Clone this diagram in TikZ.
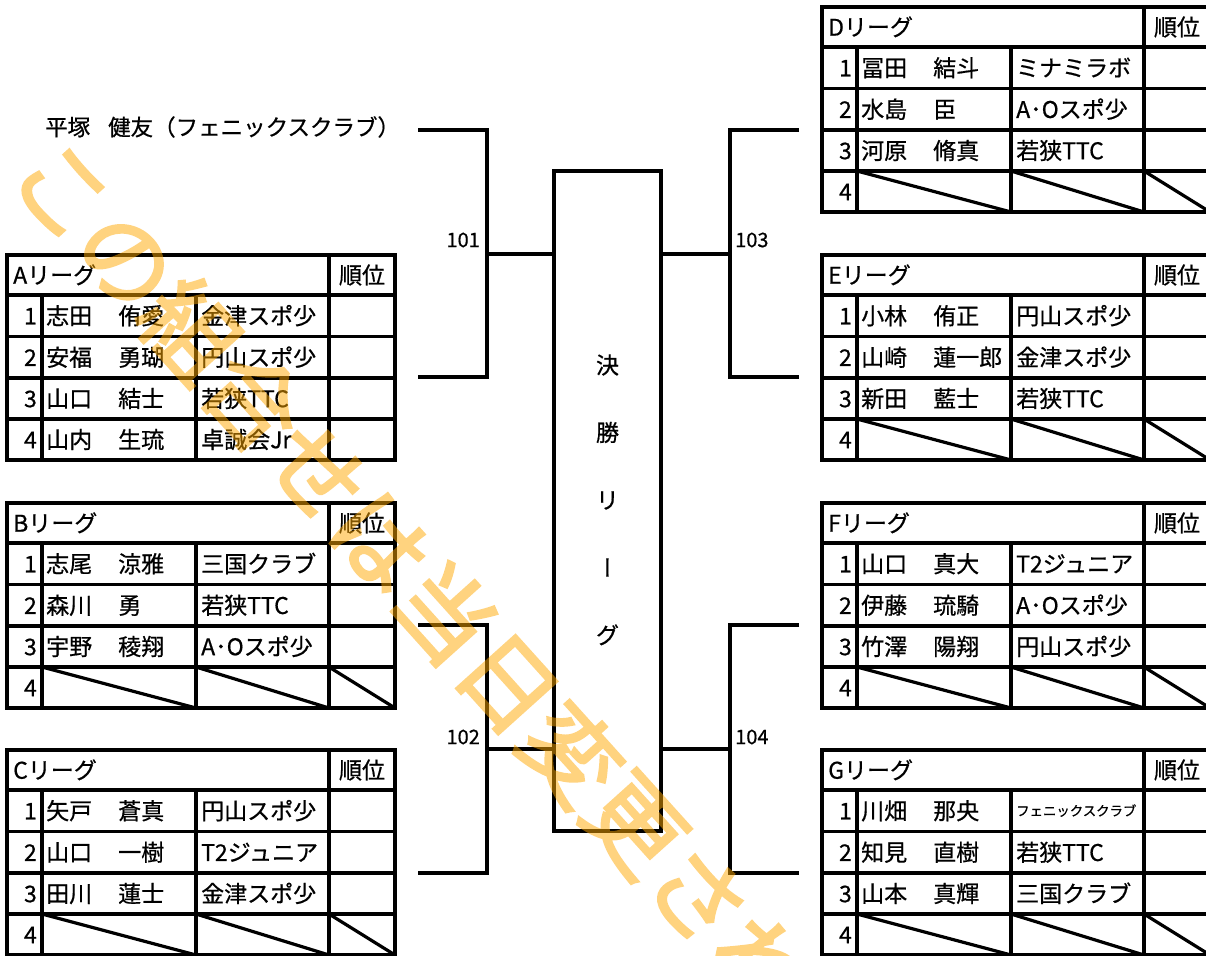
\documentclass[tikz,border=0pt]{standalone}
\usepackage{fontspec}
\setmainfont{Noto Sans CJK JP}[FakeBold=0.6]
\newfontfamily\wmfont{Noto Sans CJK JP}[FakeBold=2.5]
\definecolor{wmc}{RGB}{255,168,0}
\tikzset{
  tbl/.style={line width=3.2pt, line cap=rect},
  diag/.style={line width=3.2pt},
  brk/.style={line width=3.2pt},
  txt/.style={inner sep=0pt, font=\fontsize{23pt}{23pt}\selectfont, text height=20.2pt, text depth=2.8pt},
  smalltxt/.style={inner sep=0pt, font=\fontsize{13.4pt}{13.4pt}\selectfont, text height=11.8pt, text depth=1.6pt},
  seedtxt/.style={inner sep=0pt, font=\fontsize{22.5pt}{22.5pt}\selectfont, text height=19.8pt, text depth=2.7pt},
  lbl/.style={inner sep=0pt, font=\fontsize{20pt}{20pt}\selectfont},
  fbox/.style={draw, line width=3.2pt, minimum width=107pt, minimum height=660pt, inner sep=0pt},
  wm/.style={inner sep=0pt, font=\wmfont\fontsize{95pt}{95pt}\selectfont, text=wmc},
}
\newcommand\lgtable[4]{%
  \draw[tbl] (#1,#2) rectangle ({#1+388},{#2+205});
  \foreach \o in {40,81.5,123,164}{\draw[tbl] (#1,{#2+\o}) -- ({#1+388},{#2+\o});}
  \draw[tbl] ({#1+35},{#2+40}) -- ({#1+35},{#2+205});
  \draw[tbl] ({#1+189},{#2+40}) -- ({#1+189},{#2+205});
  \draw[tbl] ({#1+322},{#2}) -- ({#1+322},{#2+205});
  \node[txt, anchor=west] (#4-h) at ({#1+6},{#2+20}) {#3リーグ};
  \node[txt] (#4-r) at ({#1+355},{#2+20}) {順位};
}
\newcommand\lgrow[8]{%
  \node[txt, anchor=east] (#4-#5n) at ({#1+30},{#2+#3}) {#5};
  \node[txt, anchor=west] (#4-#5a) at ({#1+39},{#2+#3}) {#6};
  \node[txt, anchor=west] (#4-#5b) at ({#1+111},{#2+#3}) {#7};
  \node[txt, anchor=west] (#4-#5c) at ({#1+194},{#2+#3}) {#8};
}
\newcommand\lgempty[3]{%
  \node[txt, anchor=east] (#3-4n) at ({#1+30},{#2+184.5}) {4};
  \draw[diag] ({#1+35},{#2+164}) -- ({#1+189},{#2+205});
  \draw[diag] ({#1+189},{#2+164}) -- ({#1+322},{#2+205});
  \draw[diag] ({#1+322},{#2+164}) -- ({#1+388},{#2+205});
}
\begin{document}
\begin{tikzpicture}[x=1pt,y=-1pt]
\useasboundingbox (0,0) rectangle (1206,955);
\fill[white] (0,0) rectangle (1206,955);

% ---------- left tables ----------
\lgtable{7}{255}{A}{A}
\lgrow{7}{255}{60.75}{A}{1}{志田}{侑愛}{金津スポ少}
\lgrow{7}{255}{102.25}{A}{2}{安福}{勇瑚}{円山スポ少}
\lgrow{7}{255}{143.5}{A}{3}{山口}{結士}{若狭TTC}
\lgrow{7}{255}{184.5}{A}{4}{山内}{生琉}{卓誠会Jr}

\lgtable{7}{503}{B}{B}
\lgrow{7}{503}{60.75}{B}{1}{志尾}{涼雅}{三国クラブ}
\lgrow{7}{503}{102.25}{B}{2}{森川}{勇}{若狭TTC}
\lgrow{7}{503}{143.5}{B}{3}{宇野}{稜翔}{A･Oスポ少}
\lgempty{7}{503}{B}

\lgtable{7}{750}{C}{C}
\lgrow{7}{750}{60.75}{C}{1}{矢戸}{蒼真}{円山スポ少}
\lgrow{7}{750}{102.25}{C}{2}{山口}{一樹}{T2ジュニア}
\lgrow{7}{750}{143.5}{C}{3}{田川}{蓮士}{金津スポ少}
\lgempty{7}{750}{C}

% ---------- right tables ----------
\lgtable{822}{7}{D}{D}
\lgrow{822}{7}{60.75}{D}{1}{冨田}{結斗}{ミナミラボ}
\lgrow{822}{7}{102.25}{D}{2}{水島}{臣}{A･Oスポ少}
\lgrow{822}{7}{143.5}{D}{3}{河原}{脩真}{若狭TTC}
\lgempty{822}{7}{D}

\lgtable{822}{255}{E}{E}
\lgrow{822}{255}{60.75}{E}{1}{小林}{侑正}{円山スポ少}
\lgrow{822}{255}{102.25}{E}{2}{山崎}{蓮一郎}{金津スポ少}
\lgrow{822}{255}{143.5}{E}{3}{新田}{藍士}{若狭TTC}
\lgempty{822}{255}{E}

\lgtable{822}{503}{F}{F}
\lgrow{822}{503}{60.75}{F}{1}{山口}{真大}{T2ジュニア}
\lgrow{822}{503}{102.25}{F}{2}{伊藤}{琉騎}{A･Oスポ少}
\lgrow{822}{503}{143.5}{F}{3}{竹澤}{陽翔}{円山スポ少}
\lgempty{822}{503}{F}

\lgtable{822}{750}{G}{G}
\lgrow{822}{750}{60.75}{G}{1}{川畑}{那央}{}
\node[smalltxt, anchor=west] (G-1s) at (1016,810.75) {フェニックスクラブ};
\lgrow{822}{750}{102.25}{G}{2}{知見}{直樹}{若狭TTC}
\lgrow{822}{750}{143.5}{G}{3}{山本}{真輝}{三国クラブ}
\lgempty{822}{750}{G}

% ---------- seeded player ----------
\node[seedtxt, anchor=west] (seed) at (45,127) {平塚\hspace{18pt}健友（フェニックスクラブ）};

% ---------- final league box ----------
\node[fbox] (final) at (607.5,501) {};
\node[txt] (f1) at (607.5,365) {決};
\node[txt] (f2) at (607.5,432.5) {勝};
\node[txt] (f3) at (607.5,500) {リ};
\node[txt, rotate=90] (f4) at (607.5,567.5) {ー};
\node[txt] (f5) at (607.5,635) {グ};

% ---------- brackets ----------
\coordinate (L1a) at (418,130);
\coordinate (L1b) at (418,377);
\coordinate (j101) at (487,254);
\draw[brk] (L1a) -| (j101) |- (L1b);
\draw[brk] (j101) -- (final.west |- j101);
\node[lbl, anchor=east] (n101) at (480,240) {101};

\coordinate (L2a) at (418,625);
\coordinate (L2b) at (418,873);
\coordinate (j102) at (487,749);
\draw[brk] (L2a) -| (j102) |- (L2b);
\draw[brk] (j102) -- (final.west |- j102);
\node[lbl, anchor=east] (n102) at (480,737) {102};

\coordinate (R1a) at (799,130);
\coordinate (R1b) at (799,377);
\coordinate (j103) at (730,254);
\draw[brk] (R1a) -| (j103) |- (R1b);
\draw[brk] (j103) -- (final.east |- j103);
\node[lbl, anchor=west] (n103) at (735,240) {103};

\coordinate (R2a) at (799,625);
\coordinate (R2b) at (799,873);
\coordinate (j104) at (730,749);
\draw[brk] (R2a) -| (j104) |- (R2b);
\draw[brk] (j104) -- (final.east |- j104);
\node[lbl, anchor=west] (n104) at (735,737) {104};

% ---------- watermark ----------
\begin{scope}[transparency group, opacity=0.5]
\node[wm, rotate=-48] (wm) at (413,577) {この組合せは当日変更され};
\end{scope}
\end{tikzpicture}
\end{document}
